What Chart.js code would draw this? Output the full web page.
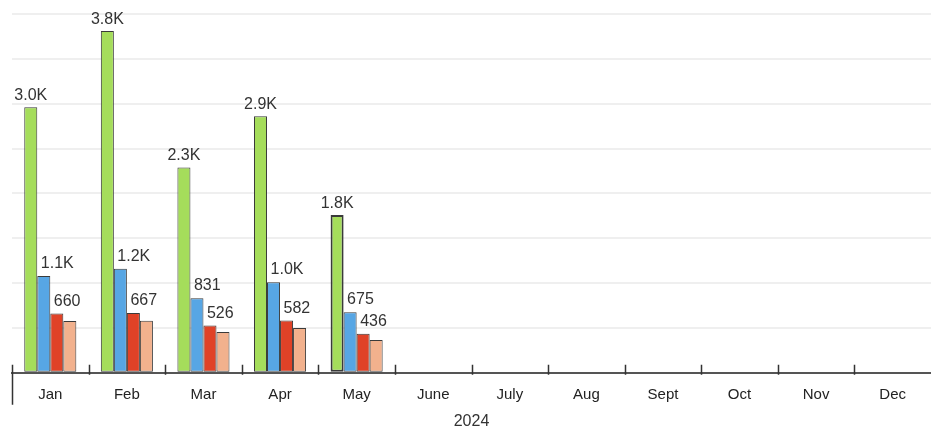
<!DOCTYPE html>
<html>
<head>
<meta charset="utf-8">
<script src="https://cdn.jsdelivr.net/npm/chart.js@4"></script>
<style>
    html, body { margin: 0; padding: 0; background: #ffffff; }
    #wrap { width: 931px; height: 431px; position: relative; }
</style>
</head>
<body>
<div id="wrap"><canvas id="monthly-chart"></canvas></div>
<script>
// Chart data
const months = ['Jan', 'Feb', 'Mar', 'Apr', 'May', 'June', 'July', 'Aug', 'Sept', 'Oct', 'Nov', 'Dec'];
const seriesA = [2960, 3810, 2290, 2860, 1760, 0, null, null, null, null, null, null];
const seriesB = [1080, 1160, 831, 1010, 675, 0, null, null, null, null, null, null];
const seriesC = [660, 667, 526, 582, 436, 0, null, null, null, null, null, null];
const seriesD = [578, 580, 455, 500, 367, 0, null, null, null, null, null, null];
const yTicks = [0, 500, 1000, 1500, 2000, 2500, 3000, 3500, 4000];
const yearLabel = '2024';

const FONT = "'Liberation Sans', Arial, sans-serif";

// Format a value like the reference labels
function formatValue(v) {
    if (v >= 1000) return (v / 1000).toFixed(1) + 'K';
    return Math.round(v).toString();
}

// Value labels above bars (green centred, blue/red shifted right)
const valueLabels = {
    id: 'valueLabels',
    afterDatasetsDraw(chart) {
        const ctx = chart.ctx;
        ctx.save();
        ctx.font = '16px ' + FONT;
        ctx.fillStyle = '#333333';
        ctx.textBaseline = 'alphabetic';
        chart.data.datasets.forEach((ds, di) => {
            if (!ds.showLabels) return;
            const meta = chart.getDatasetMeta(di);
            meta.data.forEach((bar, i) => {
                const v = ds.data[i];
                if (v === null || v === 0) return;
                if (di === 0) {
                    ctx.textAlign = 'center';
                    ctx.fillText(formatValue(v), bar.x, bar.y - 7);
                } else {
                    ctx.textAlign = 'left';
                    ctx.fillText(formatValue(v), bar.x - 3, bar.y - 8);
                }
            });
        });
        ctx.restore();
    }
};

// Category boundary ticks and left edge line on the x axis
const axisTicks = {
    id: 'axisTicks',
    afterDraw(chart) {
        const ctx = chart.ctx;
        const x = chart.scales.x;
        const bottom = chart.chartArea.bottom;
        const step = (x.right - x.left) / months.length;
        ctx.save();
        ctx.strokeStyle = '#333333';
        ctx.lineWidth = 1.5;
        ctx.beginPath();
        for (let i = 1; i < months.length; i++) {
            const px = Math.round(x.left + step * i) + 0.5;
            ctx.moveTo(px, bottom - 8);
            ctx.lineTo(px, bottom + 2);
        }
        ctx.moveTo(x.left + 0.5, bottom - 8);
        ctx.lineTo(x.left + 0.5, bottom + 32);
        ctx.stroke();
        ctx.restore();
    }
};

function makeDataset(label, data, color, showLabels, borderWidths) {
    return {
        label: label,
        data: data,
        backgroundColor: color,
        borderColor: '#3a3a3a',
        borderWidth: borderWidths,
        borderSkipped: false,
        showLabels: showLabels
    };
}

const ctx = document.getElementById('monthly-chart').getContext('2d');
new Chart(ctx, {
    type: 'bar',
    data: {
        labels: months,
        datasets: [
            makeDataset('A', seriesA, '#a5dd5b', true, [1, 1, 1, 1, 2, 1, 1, 1, 1, 1, 1, 1]),
            makeDataset('B', seriesB, '#57a6e4', true, 1),
            makeDataset('C', seriesC, '#e04227', true, 1),
            makeDataset('D', seriesD, '#f2b18d', false, 1)
        ]
    },
    options: {
        responsive: true,
        maintainAspectRatio: false,
        animation: false,
        datasets: {
            bar: { categoryPercentage: 0.68, barPercentage: 1.0 }
        },
        layout: {
            padding: { left: 12, top: 14, right: 0, bottom: 0 }
        },
        plugins: {
            legend: { display: false },
            tooltip: { enabled: false }
        },
        scales: {
            x: {
                offset: true,
                border: { display: true, color: '#555555', width: 2 },
                grid: { display: false, drawTicks: false, tickLength: 0 },
                ticks: {
                    padding: 13,
                    maxRotation: 0,
                    minRotation: 0,
                    autoSkip: false,
                    color: '#222222',
                    font: { family: FONT, size: 15 }
                },
                title: {
                    display: true,
                    text: yearLabel,
                    color: '#333333',
                    font: { family: FONT, size: 16 },
                    padding: { top: -5, bottom: 0 }
                }
            },
            y: {
                min: yTicks[0],
                max: yTicks[yTicks.length - 1],
                afterBuildTicks: (scale) => {
                    scale.ticks = yTicks.map(v => ({ value: v }));
                },
                ticks: { display: false },
                border: { display: false },
                grid: { color: '#efefef', lineWidth: 2, drawTicks: false }
            }
        }
    },
    plugins: [valueLabels, axisTicks]
});
</script>
</body>
</html>
